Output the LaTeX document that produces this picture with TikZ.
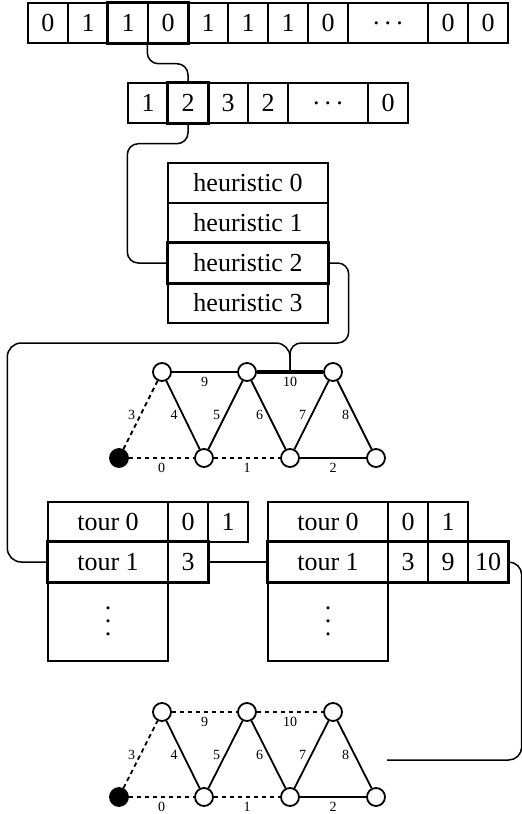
\documentclass[tikz,border=0pt]{standalone}
\usepackage{fontspec}
\setmainfont{Liberation Serif}
\newcommand\cellfnt{\fontsize{26}{30}\selectfont}
\newcommand\lblfnt{\fontsize{14}{16}\selectfont}
\newcommand\mydots{.\hspace{0.2em}.\hspace{0.2em}.}
\begin{document}
\begin{tikzpicture}[x=1pt,y=-1pt,
  cell/.style={draw,line width=1.4pt,minimum width=40pt,minimum height=40pt,inner sep=0pt,font=\cellfnt},
  boldbox/.style={draw,line width=3pt},
  conn/.style={draw,line width=1.5pt,rounded corners=11pt},
  vtx/.style={circle,draw,line width=1.8pt,minimum size=18pt,inner sep=0pt,fill=white},
  blackvtx/.style={vtx,fill=black},
  gedge/.style={line width=1.8pt},
  dedge/.style={line width=1.8pt,dash pattern=on 4.5pt off 3.5pt},
  thickedge/.style={line width=3.5pt},
  sl/.style={midway,xshift=-9pt,font=\lblfnt,inner sep=0pt},
  hl/.style={midway,yshift=-10pt,font=\lblfnt,inner sep=0pt}]
\useasboundingbox (0,0) rectangle (522,814);

% top array
\node[cell] (a0) at (48,23) {0};
\node[cell] (a1) at (88,23) {1};
\node[cell] (a2) at (128,23) {1};
\node[cell] (a3) at (168,23) {0};
\node[cell] (a4) at (208,23) {1};
\node[cell] (a5) at (248,23) {1};
\node[cell] (a6) at (288,23) {1};
\node[cell] (a7) at (328,23) {0};
\node[cell,minimum width=80pt] (a8) at (388,23) {\mydots};
\node[cell] (a9) at (448,23) {0};
\node[cell] (a10) at (488,23) {0};
\draw[boldbox] (a2.north west) rectangle (a3.south east);

% second array
\node[cell] (b0) at (148,103) {1};
\node[cell] (b1) at (188,103) {2};
\node[cell] (b2) at (228,103) {3};
\node[cell] (b3) at (268,103) {2};
\node[cell,minimum width=80pt] (b4) at (328,103) {\mydots};
\node[cell] (b5) at (388,103) {0};
\draw[boldbox] (b1.north west) rectangle (b1.south east);

% heuristics
\node[cell,minimum width=160pt] (h0) at (248,183) {heuristic 0};
\node[cell,minimum width=160pt] (h1) at (248,223) {heuristic 1};
\node[cell,minimum width=160pt] (h2) at (248,263) {heuristic 2};
\node[cell,minimum width=160pt] (h3) at (248,303) {heuristic 3};
\draw[boldbox] (h2.north west) rectangle (h2.south east);

% graph 1
\node[vtx] (t1) at (162,372) {};
\node[vtx] (t2) at (247,372) {};
\node[vtx] (t3) at (333,372) {};
\node[blackvtx] (s0) at (119,458) {};
\node[vtx] (s1) at (204,458) {};
\node[vtx] (s2) at (290,458) {};
\node[vtx] (s3) at (376,458) {};
\draw[dedge] (s0) -- node[hl] {0} (s1);
\draw[dedge] (s1) -- node[hl] {1} (s2);
\draw[gedge] (s2) -- node[hl] {2} (s3);
\draw[dedge] (s0) -- node[sl] {3} (t1);
\draw[gedge] (t1) -- node[sl] {4} (s1);
\draw[gedge] (s1) -- node[sl] {5} (t2);
\draw[gedge] (t2) -- node[sl] {6} (s2);
\draw[gedge] (s2) -- node[sl] {7} (t3);
\draw[gedge] (t3) -- node[sl] {8} (s3);
\draw[gedge] (t1) -- node[hl] {9} (t2);
\draw[thickedge] (t2) -- node[hl] {10} coordinate[midway] (j1) (t3);

% tour tables
\node[cell,minimum width=120pt] (l0) at (108,522) {tour 0};
\node[cell] (l0a) at (188,522) {0};
\node[cell] (l0b) at (228,522) {1};
\node[cell,minimum width=120pt] (l1) at (108,562) {tour 1};
\node[cell] (l1a) at (188,562) {3};
\node[cell,minimum width=120pt,minimum height=79pt] (lbox) at (108,621.5)
  {\vbox{\baselineskip=13pt\lineskiplimit=-100pt\hbox{.}\hbox{.}\hbox{.}}};
\draw[boldbox] (l1.north west) rectangle (l1a.south east);

\node[cell,minimum width=120pt] (r0) at (328,522) {tour 0};
\node[cell] (r0a) at (408,522) {0};
\node[cell] (r0b) at (448,522) {1};
\node[cell,minimum width=120pt] (r1) at (328,562) {tour 1};
\node[cell] (r1a) at (408,562) {3};
\node[cell] (r1b) at (448,562) {9};
\node[cell] (r1c) at (488,562) {10};
\node[cell,minimum width=120pt,minimum height=79pt] (rbox) at (328,621.5)
  {\vbox{\baselineskip=13pt\lineskiplimit=-100pt\hbox{.}\hbox{.}\hbox{.}}};
\draw[boldbox] (r1.north west) rectangle (r1c.south east);

% graph 2
\node[vtx] (u1) at (162,712) {};
\node[vtx] (u2) at (247,712) {};
\node[vtx] (u3) at (333,712) {};
\node[blackvtx] (v0) at (119,797) {};
\node[vtx] (v1) at (204,797) {};
\node[vtx] (v2) at (290,797) {};
\node[vtx] (v3) at (376,797) {};
\draw[dedge] (v0) -- node[hl] {0} (v1);
\draw[dedge] (v1) -- node[hl] {1} (v2);
\draw[gedge] (v2) -- node[hl] {2} (v3);
\draw[dedge] (v0) -- node[sl] {3} (u1);
\draw[gedge] (u1) -- node[sl] {4} (v1);
\draw[gedge] (v1) -- node[sl] {5} (u2);
\draw[gedge] (u2) -- node[sl] {6} (v2);
\draw[gedge] (v2) -- node[sl] {7} (u3);
\draw[gedge] (u3) -- node[sl] {8} (v3);
\draw[dedge] (u1) -- node[hl] {9} (u2);
\draw[dedge] (u2) -- node[hl] {10} (u3);
\coordinate (e2) at (387,760);

% connectors
\draw[conn] (a3.south west) -- ++(0,20) -| (b1.north);
\draw[conn] (b1.south) -- ++(0,20) -| ([xshift=-40pt]h2.west) -- (h2.west);
\draw[conn] (h2.east) -- ++(20,0) |- ([yshift=29pt]j1) -- (j1);
\draw[conn,rounded corners=14pt] (l1.west) -- ++(-40,0) |- ([yshift=29pt]j1) -- (j1);
\draw[conn] (l1a.east) -- (r1.west);
\draw[conn,rounded corners=13pt] (r1c.east) -- ++(13,0) |- (e2);
\end{tikzpicture}
\end{document}
